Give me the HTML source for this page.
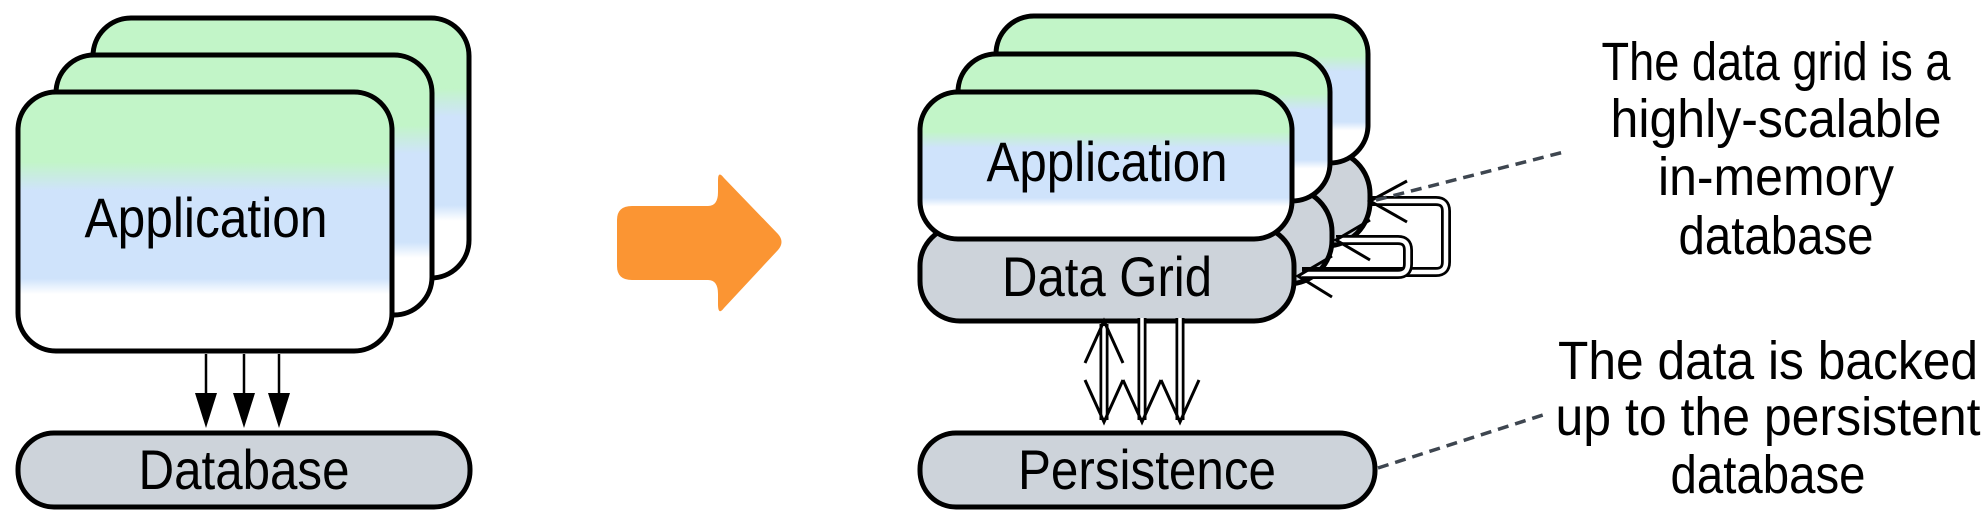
<!DOCTYPE html>
<html><head><meta charset="utf-8"><style>
html,body{margin:0;padding:0;background:#fff;}
svg{display:block;}
text{font-family:"Liberation Sans",sans-serif;fill:#000;}
</style></head><body>
<svg width="1986" height="525" viewBox="0 0 1986 525" xmlns="http://www.w3.org/2000/svg">
<defs>
<linearGradient id="g" x1="0" y1="0" x2="0" y2="1">
<stop offset="0" stop-color="#c2f5c8"/>
<stop offset="0.27" stop-color="#c2f5c8"/>
<stop offset="0.38" stop-color="#cfe3fb"/>
<stop offset="0.72" stop-color="#cfe3fb"/>
<stop offset="0.78" stop-color="#ffffff"/>
<stop offset="1" stop-color="#ffffff"/>
</linearGradient>
</defs>
<g stroke="#000" stroke-width="5">
<rect x="93" y="18" width="376" height="260" rx="38" fill="url(#g)"/>
<rect x="56" y="55" width="376" height="260" rx="38" fill="url(#g)"/>
<rect x="18" y="92" width="374" height="259" rx="38" fill="url(#g)"/>
<rect x="18" y="433" width="452" height="74" rx="36" fill="#cdd3da"/>
</g>
<text x="206" y="237" font-size="56" text-anchor="middle" textLength="243" lengthAdjust="spacingAndGlyphs">Application</text>
<text x="244" y="489" font-size="56" text-anchor="middle" textLength="211" lengthAdjust="spacingAndGlyphs">Database</text>
<g stroke="#000" stroke-width="2.5">
<line x1="206" y1="354" x2="206" y2="400"/>
<line x1="244" y1="354" x2="244" y2="400"/>
<line x1="279" y1="354" x2="279" y2="400"/>
</g>
<g fill="#000">
<polygon points="195,393 217,393 206,428"/>
<polygon points="233,393 255,393 244,428"/>
<polygon points="268,393 290,393 279,428"/>
</g>
<path d="M632,206 H708 Q718,206 718,192 V180 Q718,170 724,178 L778,234 Q785,242 778,250 L724,308 Q718,316 718,304 V294 Q718,280 708,280 H632 Q617,280 617,266 V220 Q617,206 632,206 Z" fill="#fb9533"/>
<g stroke="#000" stroke-width="5">
<rect x="996" y="150" width="374" height="96" rx="44" fill="#cdd3da"/>
<rect x="996" y="16" width="372" height="147" rx="38" fill="url(#g)"/>
<rect x="958" y="188" width="374" height="96" rx="44" fill="#cdd3da"/>
<rect x="958" y="54" width="372" height="147" rx="38" fill="url(#g)"/>
<rect x="920" y="226" width="374" height="95" rx="40" fill="#cdd3da"/>
<rect x="920" y="92" width="372" height="147" rx="38" fill="url(#g)"/>
<rect x="920" y="433" width="455" height="74" rx="36" fill="#cdd3da"/>
</g>
<text x="1107" y="181" font-size="56" text-anchor="middle" textLength="241" lengthAdjust="spacingAndGlyphs">Application</text>
<text x="1107" y="296" font-size="56" text-anchor="middle" textLength="210" lengthAdjust="spacingAndGlyphs">Data Grid</text>
<text x="1147" y="489" font-size="56" text-anchor="middle" textLength="258" lengthAdjust="spacingAndGlyphs">Persistence</text>
<g fill="none" stroke-linejoin="round">
<path d="M1372,201 H1436 Q1446,201 1446,211 V262 Q1446,272 1436,272 H1302" stroke="#000" stroke-width="10"/>
<path d="M1372,201 H1436 Q1446,201 1446,211 V262 Q1446,272 1436,272 H1302" stroke="#fff" stroke-width="4.5"/>
<path d="M1336,240 H1398 Q1408,240 1408,250 V264 Q1408,274 1398,274 H1302" stroke="#000" stroke-width="10"/>
<path d="M1336,240 H1398 Q1408,240 1408,250 V264 Q1408,274 1398,274 H1302" stroke="#fff" stroke-width="4.5"/>
</g>
<g stroke="#000" stroke-width="3" fill="none">
<polyline points="1407,181 1370,201 1407,222"/>
<polyline points="1370,220 1336,240 1370,260"/>
<polyline points="1332,256 1298,276 1332,297"/>
</g>
<g stroke="#000" stroke-width="9" fill="none">
<line x1="1104" y1="324" x2="1104" y2="420"/>
<line x1="1142" y1="318" x2="1142" y2="420"/>
<line x1="1180" y1="318" x2="1180" y2="420"/>
</g>
<g stroke="#fff" stroke-width="3.5" fill="none">
<line x1="1104" y1="326" x2="1104" y2="418"/>
<line x1="1142" y1="318" x2="1142" y2="418"/>
<line x1="1180" y1="318" x2="1180" y2="418"/>
</g>
<g stroke="#000" stroke-width="3" fill="none">
<polyline points="1085,363 1104,321 1123,363"/>
<polyline points="1085,380 1104,422 1123,380"/>
<polyline points="1123,380 1142,422 1161,380"/>
<polyline points="1161,380 1180,422 1199,380"/>
</g>
<g stroke="#3e4650" stroke-width="3.5" stroke-dasharray="11,7">
<line x1="1376" y1="200" x2="1564" y2="152"/>
<line x1="1378" y1="468" x2="1546" y2="414"/>
</g>
<g font-size="54" text-anchor="middle" lengthAdjust="spacingAndGlyphs">
<text x="1776" y="80" textLength="349" lengthAdjust="spacingAndGlyphs">The data grid is a</text>
<text x="1776" y="137" textLength="331" lengthAdjust="spacingAndGlyphs">highly-scalable</text>
<text x="1776" y="195" textLength="236" lengthAdjust="spacingAndGlyphs">in-memory</text>
<text x="1776" y="254" textLength="195" lengthAdjust="spacingAndGlyphs">database</text>
<text x="1768" y="379" textLength="420" lengthAdjust="spacingAndGlyphs">The data is backed</text>
<text x="1768" y="435" textLength="425" lengthAdjust="spacingAndGlyphs">up to the persistent</text>
<text x="1768" y="493" textLength="195" lengthAdjust="spacingAndGlyphs">database</text>
</g>
</svg>
</body></html>
